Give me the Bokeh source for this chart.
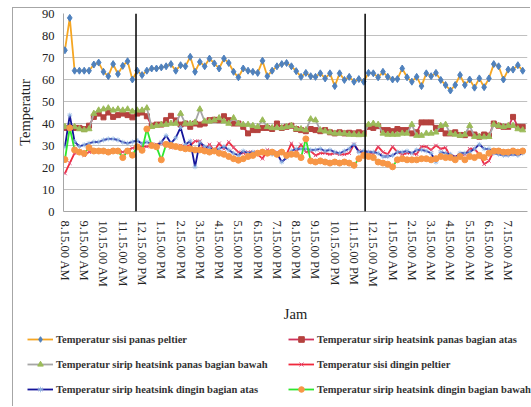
from bokeh.plotting import figure
from bokeh.models import Range1d, FixedTicker, Span, Legend, LegendItem
from bokeh.embed import file_html
from bokeh.resources import INLINE

# 96 readings, every 15 minutes from 8.15.00 AM
tick_labels = ["8.15.00 AM", "9.15.00 AM", "10.15.00 AM", "11.15.00 AM",
               "12.15.00 PM", "1.15.00 PM", "2.15.00 PM", "3.15.00 PM",
               "4.15.00 PM", "5.15.00 PM", "6.15.00 PM", "7.15.00 PM",
               "8.15.00 PM", "9.15.00 PM", "10.15.00 PM", "11.15.00 PM",
               "12.15.00 AM", "1.15.00 AM", "2.15.00 AM", "3.15.00 AM",
               "4.15.00 AM", "5.15.00 AM", "6.15.00 AM", "7.15.00 AM"]
n_points = 96
readings_per_label = 4
divider_positions = [14.75, 62.3]   # hand-drawn separators (noon / midnight)

sisi_panas = [73.3, 88, 64, 64, 64, 64, 66.8, 67.7, 63.5, 61.5, 67, 62.5, 66.2, 68.3, 60, 64,
              62, 64, 65, 65, 65.5, 66, 67, 64, 66.5, 66, 70.3, 63.5, 68, 66, 69.5, 67.3,
              65, 69.5, 67.5, 63.5, 61, 65, 64, 63.5, 63, 68.5, 61.5, 64, 66, 67, 67.5, 66,
              63.8, 61.2, 63, 61.5, 61.2, 62.8, 60.5, 62.8, 57, 62.8, 59.8, 61.2, 59, 60.2,
              59, 63, 62.8, 61, 63.5, 61.2, 60, 60.2, 65, 61, 59, 61.2, 57, 62.8, 61.5, 63,
              59.8, 57.5, 55, 57.5, 62, 57.5, 60, 56.3, 60.5, 56.5, 60.5, 67, 66, 60, 64.5, 64.5, 66.5, 64]

panas_atas = [38, 38, 38, 38, 37.5, 39, 43, 44.5, 42.8, 45, 43, 43.8, 44.5, 43.8, 42.8, 44.5,
              45, 43.3, 39, 39.5, 39.5, 41.5, 43.5, 41.4, 39.5, 40, 38.5, 40, 39.5, 40, 41.5, 41.7,
              41.5, 43.3, 41.5, 40, 40, 38.5, 35.5, 37, 37, 38, 38, 37.5, 40, 38, 38.5, 39,
              37.5, 37, 36.5, 37.5, 37, 36.5, 37, 36, 35.5, 36, 35.5, 35.8, 35.5, 36, 35.5, 38.5,
              38, 38.8, 37, 37, 36.5, 37.5, 37, 37, 35.5, 36, 40.5, 40.5, 40.5, 38, 37.5, 35.5,
              35.5, 36, 34.8, 34.7, 35.5, 35, 34, 35, 34.5, 40, 39, 38.5, 38.5, 43, 38.5, 38.5]

panas_bawah = [38.5, 38.5, 38.5, 37.5, 37, 37.5, 44.5, 46, 46.5, 47, 46, 46.5, 46, 46.5, 45.5, 46,
               46, 47, 38.5, 39, 39.5, 39.5, 40, 40, 44.5, 40, 40, 40.5, 46.5, 41, 41, 41.5,
               42.5, 41, 40, 42.5, 40, 39.5, 39.5, 39, 38.5, 41.5, 38.5, 38, 38, 38, 38.5, 39,
               37.5, 37.5, 37, 42, 41.5, 37, 36.5, 36, 35.5, 35.5, 35.5, 35, 35, 34.8, 35, 39.5,
               40, 39.5, 35.5, 35, 35, 35, 35.5, 35.5, 39.5, 34.5, 34.5, 35.5, 35.5, 36, 39, 39.5,
               35.5, 35, 34.5, 35, 39, 34, 34, 33.8, 34, 39.5, 39, 38.5, 39, 39, 37.5, 37]

sisi_dingin = [17.3, 22, 26.5, 27.5, 25.6, 27, 27.5, 27.5, 27.5, 27.5, 27.5, 27.5, 27, 28, 28.8, 29.5,
               29.5, 29.5, 30, 30.5, 31, 31, 29, 29.5, 30, 29.5, 30, 32, 32, 27.5, 30.5, 27.5,
               31, 28.5, 31.6, 29, 27, 26.5, 27, 27, 26, 24, 28, 27, 27, 27, 26, 31,
               27, 30.5, 27, 27.5, 25.5, 26.5, 26.5, 26, 26.5, 26, 26, 26.5, 30.5, 27.5, 26.5, 27,
               26, 29.5, 27, 26, 29.5, 27, 26, 26.5, 26.5, 26, 29.5, 29.5, 28, 30, 28.5, 29,
               25, 25, 25.5, 26, 28.5, 28.5, 26, 21.5, 23, 27.5, 28, 27.5, 27.5, 28, 27.5, 27.5]

dingin_atas = [29.4, 43.8, 31.8, 29.6, 30.3, 31, 31.6, 31.6, 32.5, 33, 33, 32.5, 31.5, 31, 31.6, 32.3,
               30.8, 31.6, 30.5, 30, 31.5, 34.5, 31, 33.5, 38.2, 30.5, 32, 20.3, 31.5, 29.5, 29, 28,
               28.5, 29.5, 28, 26.5, 25.5, 27.5, 26.5, 27, 26.5, 27, 27, 26, 26.5, 22.5, 24.5, 27.5,
               28.5, 28.5, 28.5, 28, 28, 28.5, 27.5, 28, 27, 26.5, 27.5, 28.5, 30.5, 27, 27.5, 27,
               27, 26.5, 25, 25, 25.5, 27, 27, 27.5, 26.5, 28, 28, 27.5, 26.5, 22.5, 27, 26.5,
               26, 24.5, 26.5, 26.5, 27, 28.5, 30.5, 28.5, 28.5, 26.5, 26, 25.5, 25.5, 26, 25.5, 26.5]

dingin_bawah = [23.6, 38, 28, 27, 26.4, 29, 27.5, 27.5, 27.5, 27, 27.5, 27.5, 24.5, 27.5, 25.6, 29.4,
                27.8, 37.5, 30, 29.4, 23.5, 30.5, 30, 29.5, 29, 28.5, 28.5, 28, 28, 27.5, 27, 27.5,
                26.5, 26, 25, 24, 23.3, 24, 25, 25.5, 26.5, 27, 26.5, 27, 26, 27, 25.5, 26,
                26, 24.5, 33, 23, 22.5, 23, 22.5, 22, 22.5, 22, 22.5, 22, 21, 24, 25.5, 25,
                24.5, 22.5, 22, 21.5, 20.3, 23.5, 24, 23.5, 23.5, 23.5, 24, 24, 23.5, 24, 25, 24.5,
                24.5, 23.5, 25, 23.5, 25, 24.5, 25.5, 24.5, 26.5, 27.5, 27.5, 27, 27, 27.5, 27, 27.5]

series_names = ["Temperatur sisi panas peltier",
                "Temperatur sirip heatsink panas bagian atas",
                "Temperatur sirip heatsink panas bagian bawah",
                "Temperatur sisi dingin peltier",
                "Temperatur sirip heatsink dingin bagian atas",
                "Temperatur sirip heatsink dingin bagian bawah"]
series_values = [sisi_panas, panas_atas, panas_bawah, sisi_dingin, dingin_atas, dingin_bawah]

styles = [
    dict(line="#F5A623", marker="diamond", size=7, fill="#4F81BD", mline="#4F81BD", mw=1),
    dict(line="#D0345C", marker="square", size=5, fill="#B5423E", mline="#B5423E", mw=1),
    dict(line="#A6A6A6", marker="triangle", size=6, fill="#9BBB59", mline="#9BBB59", mw=1),
    dict(line="#F0283C", marker="x", size=5, fill=None, mline="#E0507A", mw=1),
    dict(line="#14149A", marker="asterisk", size=5, fill=None, mline="#8DB4E2", mw=0.8),
    dict(line="#2EE62E", marker="circle", size=6, fill="#F79646", mline="#F79646", mw=1),
]

serif = "Liberation Serif"
border_css = "1px solid #A6A6A6"
x = list(range(n_points))


def draw_series(fig):
    rends = []
    for vals, st in zip(series_values, styles):
        lr = fig.line(x, vals, line_color=st["line"], line_width=1.8)
        if st["fill"] is None:
            sr = fig.scatter(x, vals, marker=st["marker"], size=st["size"], line_color=st["mline"],
                             line_width=st["mw"])
        else:
            sr = fig.scatter(x, vals, marker=st["marker"], size=st["size"], fill_color=st["fill"],
                             line_color=st["mline"], line_width=st["mw"])
        rends.append((lr, sr))
    return rends


# ---- main chart ----
p = figure(width=518, height=317, x_range=Range1d(-0.3, 96), y_range=Range1d(0, 90),
           output_backend="svg", toolbar_location=None,
           min_border_left=49, min_border_top=5, min_border_right=4, min_border_bottom=114)
p.margin = (7, 0, 0, 12)
p.styles = {"border-left": border_css, "border-top": border_css}
p.outline_line_color = None
p.background_fill_color = "white"
p.border_fill_color = "white"

p.xgrid.visible = False
p.ygrid.grid_line_color = "#C0C0C0"
p.ygrid.grid_line_width = 1

p.yaxis.ticker = FixedTicker(ticks=list(range(0, 91, 10)))
p.yaxis.axis_label = "Temperatur"
p.xaxis.axis_label = "Jam"
tick_pos = [i * readings_per_label for i in range(len(tick_labels))]
p.xaxis.ticker = FixedTicker(ticks=tick_pos)
p.xaxis.major_label_overrides = {t: l for t, l in zip(tick_pos, tick_labels)}
p.xaxis.major_label_orientation = "vertical"

for ax in (p.xaxis[0], p.yaxis[0]):
    ax.axis_line_color = "#A6A6A6"
    ax.major_tick_line_color = None
    ax.minor_tick_line_color = None
    ax.major_tick_out = 0
    ax.major_tick_in = 0
    ax.minor_tick_out = 0
    ax.minor_tick_in = 0
    ax.major_label_text_font = serif
    ax.major_label_text_font_size = "12.5px"
    ax.major_label_text_color = "#222222"
    ax.axis_label_text_font = serif
    ax.axis_label_text_font_size = "14.5px"
    ax.axis_label_text_font_style = "normal"
    ax.axis_label_text_color = "#222222"
p.yaxis.major_label_standoff = 9
p.yaxis.axis_label_standoff = 6
p.xaxis.major_label_standoff = 9
p.xaxis.axis_label_standoff = 15

draw_series(p)

for d in divider_positions:
    p.add_layout(Span(location=d, dimension="height", line_color="black", line_width=1.5))

# ---- legend panel (series drawn out of view; only the legend shows) ----
lf = figure(width=518, height=82, x_range=Range1d(0, 1), y_range=Range1d(0, 1),
            output_backend="svg", toolbar_location=None, min_border=0)
lf.margin = (0, 0, 0, 12)
lf.styles = {"border-left": border_css}
lf.axis.visible = False
lf.grid.visible = False
lf.outline_line_color = None
lf_rends = draw_series(lf)
items = [LegendItem(label=name, renderers=[lr, sr]) for name, (lr, sr) in zip(series_names, lf_rends)]

legend = Legend(items=items, location=(14, 10), orientation="horizontal", ncols=2,
                label_text_font=serif, label_text_font_size="10.5px", label_text_font_style="bold",
                label_text_color="#333333", glyph_width=26, glyph_height=14, label_standoff=3,
                label_width=221, spacing=11, padding=0, margin=0,
                border_line_color=None, background_fill_alpha=0)
lf.add_layout(legend, "center")

open("out.html", "w").write(file_html([p, lf], INLINE))
